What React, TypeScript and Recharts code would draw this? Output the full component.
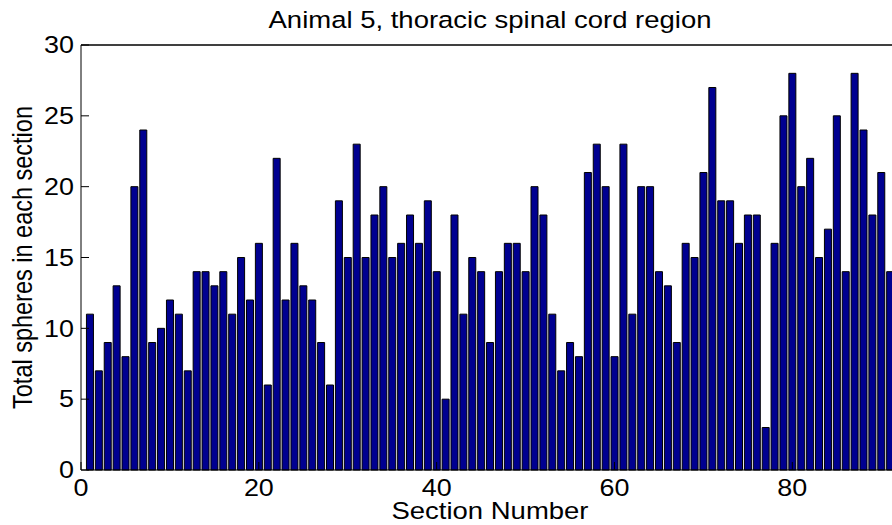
import React from "react";
import { BarChart, Bar, XAxis, YAxis, ReferenceLine } from "recharts";

// spheres counted per section (sections 1..91)
const spheres = [
  11, 7, 9, 13, 8, 20, 24, 9, 10, 12,
  11, 7, 14, 14, 13, 14, 11, 15, 12, 16,
  6, 22, 12, 16, 13, 12, 9, 6, 19, 15,
  23, 15, 18, 20, 15, 16, 18, 16, 19, 14,
  5, 18, 11, 15, 14, 9, 14, 16, 16, 14,
  20, 18, 11, 7, 9, 8, 21, 23, 20, 8,
  23, 11, 20, 20, 14, 13, 9, 16, 15, 21,
  27, 19, 19, 16, 18, 18, 3, 16, 25, 28,
  20, 22, 15, 17, 25, 14, 28, 24, 18, 21, 14,
];
const xTicks = [0, 20, 40, 60, 80];
const yTicks = [0, 5, 10, 15, 20, 25, 30];
const title = "Animal 5, thoracic spinal cord region";
const xLabel = "Section Number";
const yLabel = "Total spheres in each section";

const data = spheres.map((v, i) => ({ section: i + 1, spheres: v }));

const FONT = '"Liberation Sans", Arial, Helvetica, sans-serif';
const SX = 1.17; // the reference picture is stretched sideways

function XTick({ x, y, payload }: any) {
  return (
    <g transform={`translate(${x},${y}) scale(${SX},1)`}>
      <text textAnchor="middle" dy="0.72em" fontSize={23} fontFamily={FONT} fill="#000">
        {payload.value}
      </text>
    </g>
  );
}

function YTick({ x, y, payload }: any) {
  return (
    <g transform={`translate(${x},${y}) scale(${SX},1)`}>
      <text textAnchor="end" dy="0.36em" fontSize={23} fontFamily={FONT} fill="#000">
        {payload.value}
      </text>
    </g>
  );
}

function TitleLabel({ viewBox }: any) {
  const cx = viewBox ? viewBox.x + viewBox.width / 2 : 490;
  return (
    <g transform={`translate(${cx},27.5) scale(${SX},1)`}>
      <text textAnchor="middle" fontSize={23.5} fontFamily={FONT} fill="#000">
        {title}
      </text>
    </g>
  );
}

function XLabel({ viewBox }: any) {
  const cx = viewBox ? viewBox.x + viewBox.width / 2 : 490;
  return (
    <g transform={`translate(${cx},519) scale(${SX},1)`}>
      <text textAnchor="middle" fontSize={23.5} fontFamily={FONT} fill="#000">
        {xLabel}
      </text>
    </g>
  );
}

function YLabel({ viewBox }: any) {
  const cy = viewBox ? viewBox.y + viewBox.height / 2 : 257;
  return (
    <g transform={`translate(32,${cy}) scale(${SX},1) rotate(-90)`}>
      <text textAnchor="middle" fontSize={23.5} fontFamily={FONT} fill="#000">
        {yLabel}
      </text>
    </g>
  );
}

export default function App() {
  return (
    <div
      style={{
        position: "absolute",
        left: 0,
        top: 0,
        width: 892,
        height: 525,
        overflow: "hidden",
        background: "#fff",
      }}
    >
      <BarChart
        width={910}
        height={525}
        data={data}
        margin={{ top: 44, right: 10, bottom: 0, left: 0 }}
      >
        <XAxis
          dataKey="section"
          type="number"
          domain={[0, 92]}
          ticks={xTicks}
          interval={0}
          tickSize={-8}
          tickMargin={17}
          height={55}
          tick={<XTick />}
          stroke="#000"
          tickLine={{ stroke: "#000" }}
          label={<XLabel />}
        />
        <XAxis
          xAxisId="top"
          dataKey="section"
          orientation="top"
          type="number"
          domain={[0, 92]}
          ticks={xTicks}
          interval={0}
          tickSize={-8}
          height={1}
          tick={false}
          stroke="#000"
          tickLine={{ stroke: "#000" }}
          label={<TitleLabel />}
        />
        <YAxis
          type="number"
          domain={[0, 30]}
          ticks={yTicks}
          interval={0}
          tickSize={-8}
          tickMargin={15}
          width={81}
          tick={<YTick />}
          stroke="#000"
          tickLine={{ stroke: "#000" }}
          label={<YLabel />}
        />
        <YAxis
          yAxisId="right"
          orientation="right"
          type="number"
          domain={[0, 30]}
          ticks={yTicks}
          interval={0}
          tickSize={-8}
          width={1}
          tick={false}
          stroke="#000"
          tickLine={{ stroke: "#000" }}
        />
        <ReferenceLine y={30} stroke="#000" strokeWidth={1} ifOverflow="visible" />
        <Bar
          dataKey="spheres"
          fill="#000090"
          stroke="#000"
          strokeWidth={1}
          barSize={7}
          isAnimationActive={false}
        />
        {/* invisible copy so the top and right frame axes have data to draw against */}
        <Bar
          xAxisId="top"
          yAxisId="right"
          dataKey="spheres"
          fill="none"
          stroke="none"
          barSize={7}
          isAnimationActive={false}
        />
      </BarChart>
    </div>
  );
}
